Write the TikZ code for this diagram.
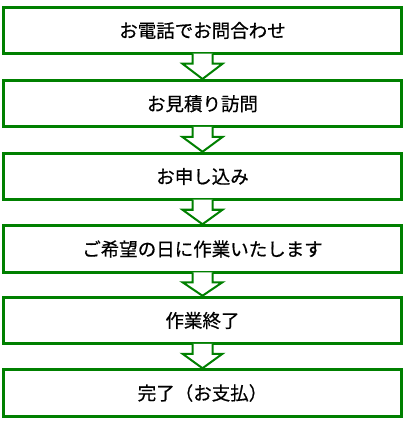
\documentclass[tikz,border=0pt]{standalone}
\usepackage{fontspec}
\newfontfamily\jpfont[FakeBold=0.6]{Noto Sans CJK JP}
\usetikzlibrary{shadows}
\definecolor{boxgreen}{RGB}{0,128,0}
\tikzset{
  stepbox/.style={draw=boxgreen, line width=3pt, fill=white,
    minimum width=398pt, minimum height=46.5pt, inner sep=0pt,
    font=\jpfont\fontsize{18.5}{20}\selectfont, text=black,
    drop shadow={shadow xshift=1.5pt, shadow yshift=-1.5pt, opacity=0.35, fill=black!60}},
  flowarrow/.style={draw=boxgreen, line width=2pt, fill=white, line join=miter}
}
\begin{document}
\begin{tikzpicture}[x=1pt,y=-1pt]
\useasboundingbox (0,0) rectangle (408,427);
\node[stepbox] (b1) at (202.5,30.5) {お電話でお問合わせ};
\node[stepbox] (b2) at (202.5,103.75) {お見積り訪問};
\node[stepbox] (b3) at (202.5,176.5) {お申し込み};
\node[stepbox] (b4) at (202.5,249) {ご希望の日に作業いたします};
\node[stepbox] (b5) at (202.5,320.5) {作業終了};
\node[stepbox] (b6) at (202.5,393) {完了（お支払）};
\foreach \a/\b in {b1/b2,b2/b3,b3/b4,b4/b5,b5/b6}{
  \filldraw[flowarrow]
    ([xshift=-10pt,yshift=1.5pt]\a.south) --
    ([xshift=-10pt,yshift=-8.5pt]\a.south) --
    ([xshift=-20pt,yshift=-8.5pt]\a.south) --
    (\b.north) --
    ([xshift=20pt,yshift=-8.5pt]\a.south) --
    ([xshift=10pt,yshift=-8.5pt]\a.south) --
    ([xshift=10pt,yshift=1.5pt]\a.south);
}
\end{tikzpicture}
\end{document}
